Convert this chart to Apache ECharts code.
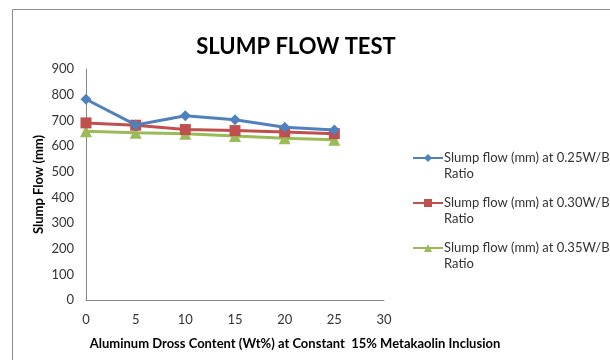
<!DOCTYPE html>
<html><head><meta charset="utf-8">
<script src="https://cdn.jsdelivr.net/npm/echarts@6/dist/echarts.min.js"></script>
<style>html,body{margin:0;padding:0;background:#fff}#c{width:610px;height:360px}</style>
</head><body><div id="c"></div>
<script>
const xValues = [0, 5, 10, 15, 20, 25];
const flow025 = [782, 682, 718, 702, 673, 662];
const flow030 = [690, 681, 664, 660, 655, 648];
const flow035 = [657, 652, 648, 639, 630, 624];
const seriesNames = ['Slump flow (mm) at 0.25W/B\nRatio', 'Slump flow (mm) at 0.30W/B\nRatio', 'Slump flow (mm) at 0.35W/B\nRatio'];
const colors = ['#4F81BD', '#C0504D', '#9BBB59'];
const symbols = ['diamond', 'rect', 'triangle'];
const allData = [flow025, flow030, flow035];
const FONT = 'Lato, "Open Sans", sans-serif';

const chart = echarts.init(document.getElementById('c'), null, {renderer: 'canvas'});
chart.setOption({
  animation: false,
  backgroundColor: '#fff',
  textStyle: {fontFamily: FONT},
  title: {
    text: 'SLUMP FLOW TEST', left: 291, top: 31, textAlign: 'center',
    textStyle: {fontSize: 22, fontWeight: 'bold', color: '#000', fontFamily: FONT}
  },
  graphic: [{type: 'rect', shape: {x: 12.5, y: 9.5, width: 620, height: 370}, style: {fill: 'none', stroke: '#8a8a8a', lineWidth: 1}, silent: true}],
  grid: {left: 86, top: 69, right: 226, bottom: 60, containLabel: false},
  legend: {
    orient: 'vertical', left: 412, top: 134, itemGap: -3, padding: 0,
    itemWidth: 30, itemHeight: 10,
    formatter: name => '\n' + name,
    textStyle: {fontSize: 13, color: '#333', fontFamily: FONT, lineHeight: 16, padding: [0, 0, 0, -4]},
    data: seriesNames
  },
  xAxis: {
    type: 'value', min: 0, max: 30, interval: 5,
    name: 'Aluminum Dross Content (Wt%) at Constant  15% Metakaolin Inclusion',
    nameLocation: 'middle', nameGap: 37,
    nameTextStyle: {fontSize: 13, fontWeight: 'bold', color: '#000', fontFamily: FONT, padding: [0, 0, 0, 120]},
    axisLine: {lineStyle: {color: '#868686', width: 1}},
    axisTick: {show: false},
    splitLine: {show: false},
    axisLabel: {fontSize: 13, color: '#333', margin: 13, fontFamily: FONT}
  },
  yAxis: {
    type: 'value', min: 0, max: 900, interval: 100,
    name: 'Slump Flow (mm)', nameLocation: 'middle', nameGap: 41, nameRotate: 90,
    nameTextStyle: {fontSize: 13, fontWeight: 'bold', color: '#000', fontFamily: FONT},
    axisLine: {show: true, lineStyle: {color: '#868686', width: 1}},
    axisTick: {show: false},
    splitLine: {show: false},
    axisLabel: {fontSize: 13, color: '#333', margin: 12, fontFamily: FONT}
  },
  series: allData.map((d, i) => ({
    name: seriesNames[i], type: 'line',
    data: xValues.map((x, j) => [x, d[j]]),
    symbol: symbols[i], symbolSize: i === 1 ? 11 : (i === 2 ? 12 : 11),
    showAllSymbol: true,
    lineStyle: {color: colors[i], width: 3},
    itemStyle: {color: colors[i], borderWidth: 0},
    z: 3 - i
  }))
});
</script></body></html>
